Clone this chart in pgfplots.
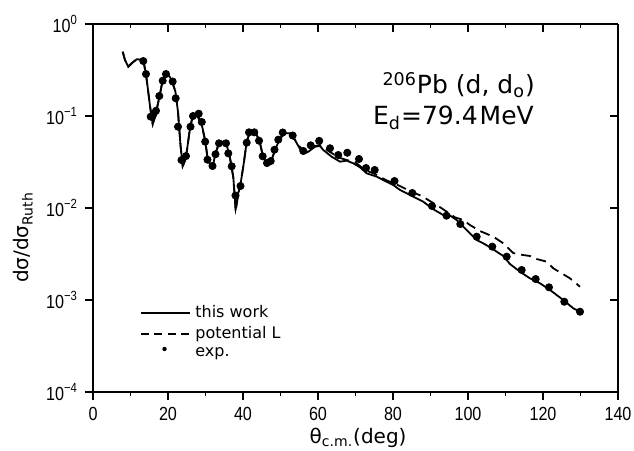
\documentclass[border=0pt]{standalone}
\usepackage{fontspec}
\setmainfont{DejaVu Sans}
\newfontfamily\tickfont[FakeStretch=0.85]{Liberation Sans}
\usepackage{pgfplots}
\pgfplotsset{compat=1.18}

% measured ratio to Rutherford, 206Pb(d,d0) at E_d = 79.4 MeV
\pgfplotstableread{
theta ratio
13.41 0.396
14.13 0.286
15.39 0.0983
16.13 0.105
16.80 0.114
17.68 0.165
18.59 0.242
19.47 0.286
21.25 0.237
22.05 0.156
22.67 0.0765
23.60 0.0332
24.80 0.0367
26.00 0.0765
26.67 0.100
28.19 0.106
29.01 0.0861
29.92 0.0526
30.53 0.0335
31.87 0.0286
32.67 0.0384
33.60 0.0505
35.47 0.0505
36.08 0.0393
36.99 0.0284
38.00 0.01367
39.33 0.01734
40.99 0.0513
41.60 0.0665
43.01 0.0665
44.27 0.0539
45.25 0.0365
46.40 0.0308
47.39 0.0324
48.40 0.0430
49.41 0.0553
50.59 0.0662
53.25 0.0614
56.08 0.0417
58.05 0.0480
60.32 0.0537
63.20 0.0446
65.41 0.0377
67.81 0.0399
70.93 0.0341
72.80 0.0272
75.12 0.0259
80.40 0.01965
85.15 0.01456
90.40 0.01051
94.27 0.00825
97.95 0.00670
102.32 0.00488
106.48 0.00380
110.32 0.00296
114.32 0.00212
118.05 0.00169
121.60 0.001374
125.68 0.000958
129.87 0.000746
}\expdata

% calculation of this work
\pgfplotstableread{
theta ratio
7.92 0.500
8.53 0.406
9.41 0.3435
10.40 0.3768
11.65 0.4134
12.99 0.4113
13.60 0.3674
14.13 0.286
14.67 0.1917
15.20 0.1284
15.92 0.0818
16.53 0.0975
17.07 0.1222
17.87 0.1734
18.59 0.2462
19.47 0.2934
20.53 0.2654
21.33 0.2228
22.00 0.1823
22.67 0.1105
23.33 0.0484
23.92 0.0286
24.53 0.0324
25.07 0.0427
25.87 0.0741
26.67 0.1025
27.73 0.1078
28.72 0.0882
29.33 0.0704
29.87 0.0548
30.53 0.0358
31.33 0.0286
32.00 0.0286
32.53 0.0377
33.60 0.0505
34.75 0.0526
35.65 0.0484
36.53 0.0350
37.41 0.0217
38.05 0.0100
38.75 0.01456
39.39 0.0187
40.27 0.0319
40.99 0.0526
41.87 0.0675
43.20 0.0675
44.35 0.0548
45.25 0.0377
46.32 0.0293
47.39 0.0311
48.53 0.0427
49.87 0.0572
51.20 0.0649
52.53 0.0649
53.87 0.0548
55.20 0.0438
56.00 0.0386
57.41 0.0409
59.20 0.0464
60.53 0.0472
61.41 0.0427
63.65 0.0361
65.87 0.0319
67.65 0.0327
69.41 0.0306
71.20 0.0277
72.99 0.0238
75.65 0.0219
78.32 0.0193
80.08 0.01778
81.87 0.0157
83.65 0.01445
85.41 0.01327
88.08 0.0117
90.75 0.00968
93.41 0.00839
95.20 0.00829
96.99 0.00741
99.65 0.00577
102.32 0.00449
104.08 0.00413
106.32 0.00365
107.65 0.00335
109.41 0.00301
111.20 0.00246
113.87 0.00203
116.53 0.00172
119.20 0.00152
121.87 0.001285
123.65 0.001133
125.41 0.001000
128.08 0.000812
129.87 0.000746
}\thiswork

% calculation with potential L
\pgfplotstableread{
theta ratio
7.92 0.500
8.53 0.406
9.41 0.3435
10.40 0.3768
11.65 0.4134
12.99 0.4113
13.60 0.3674
14.13 0.286
14.67 0.1917
15.20 0.1284
15.92 0.0818
16.53 0.0975
17.07 0.1222
17.87 0.1734
18.59 0.2462
19.47 0.2934
20.53 0.2654
21.33 0.2228
22.00 0.1823
22.67 0.1105
23.33 0.0484
23.92 0.0286
24.53 0.0324
25.07 0.0427
25.87 0.0741
26.67 0.1025
27.73 0.1025
28.53 0.0861
29.33 0.0687
29.87 0.0548
30.53 0.0358
31.33 0.0286
32.00 0.0286
32.53 0.0377
33.60 0.0505
34.75 0.0526
35.65 0.0484
36.53 0.0350
37.41 0.0217
38.05 0.00905
38.75 0.01456
39.39 0.0187
40.27 0.0319
40.99 0.0526
41.87 0.0675
43.20 0.0675
44.35 0.0548
45.25 0.0377
46.32 0.0293
47.39 0.0311
48.53 0.0427
49.87 0.0572
51.20 0.0649
52.53 0.0649
53.87 0.0548
55.20 0.0460
56.53 0.0417
57.60 0.0417
59.20 0.0472
60.53 0.0484
63.20 0.0406
65.87 0.0350
67.73 0.0332
69.87 0.0316
72.53 0.0259
75.20 0.0234
78.13 0.0201
81.87 0.01734
84.53 0.0153
87.65 0.0135
89.87 0.0119
92.99 0.00993
96.53 0.00792
98.75 0.00741
100.53 0.00653
103.20 0.00562
106.75 0.00488
109.41 0.00413
112.08 0.00324
114.75 0.00308
116.53 0.00301
118.32 0.00279
120.99 0.00261
122.75 0.00221
124.99 0.00195
127.20 0.00172
129.87 0.001395
}\potentialL

\begin{document}
\begin{tikzpicture}
\path[use as bounding box] (-46.5pt,-29.5pt) rectangle (270.5pt,196pt);

% frame with inward ticks on top and right
\begin{axis}[
  at={(0pt,0pt)}, anchor=south west,
  scale only axis, width=262.5pt, height=184pt,
  xmin=0, xmax=140, ymin=1e-4, ymax=1, ymode=log,
  axis x line*=top, axis y line*=right,
  axis line style={line width=0.8pt},
  tick align=inside, tick style={line width=0.8pt, black},
  major tick length=4pt, minor tick length=2.2pt,
  xtick={0,20,...,140}, minor x tick num=1,
  ytick={1e-4,1e-3,1e-2,1e-1,1}, yminorticks=false,
  xticklabels={}, yticklabels={},
]
\end{axis}

\begin{axis}[
  at={(0pt,0pt)}, anchor=south west,
  scale only axis, width=262.5pt, height=184pt,
  xmin=0, xmax=140, ymin=1e-4, ymax=1, ymode=log,
  axis x line*=bottom, axis y line*=left,
  axis line style={line width=0.8pt},
  tick align=outside, tick style={line width=0.8pt, black},
  major tick length=4pt, minor tick length=2.2pt,
  xtick={0,20,...,140}, minor x tick num=1,
  ytick={1e-4,1e-3,1e-2,1e-1,1}, yminorticks=false,
  yticklabels={10\textsuperscript{−4},10\textsuperscript{−3},10\textsuperscript{−2},10\textsuperscript{−1},10\textsuperscript{0}},
  /pgf/number format/assume math mode=true,
  ticklabel style={font=\tickfont\fontsize{9.5}{11}\selectfont},
  xlabel={θ\textsubscript{c.m.}(deg)},
  xlabel style={at={(axis description cs:0.505,-0.1386)}, anchor=base, font=\fontsize{10}{12}\selectfont},
  ylabel={dσ/dσ\textsubscript{Ruth}},
  ylabel style={at={(axis description cs:-0.133,0.42)}, anchor=center, font=\fontsize{10}{12}\selectfont},
  legend style={at={(axis description cs:0.0895,0.245)}, anchor=north west,
    draw=none, fill=none, inner sep=0pt, row sep=0pt, column sep=1pt,
    font=\fontsize{8}{9}\selectfont, nodes={inner sep=1.5pt}},
  legend cell align=left,
]
\addplot[black, line width=0.9pt,
  legend image code/.code={\draw[line width=0.8pt] (0cm,0cm) -- (0.85cm,0cm);}]
  table[x=theta, y=ratio] {\thiswork};
\addlegendentry{this work}
\addplot[black, line width=0.9pt, dash pattern=on 5pt off 3pt,
  legend image code/.code={\draw[line width=0.8pt, dash pattern=on 4pt off 2.6pt] (0cm,0cm) -- (0.85cm,0cm);}]
  table[x=theta, y=ratio] {\potentialL};
\addlegendentry{potential L}
\addplot[black, only marks, mark=*, mark size=1.8pt,
  legend image code/.code={\path[draw=none] (0cm,0cm) -- (0.85cm,0cm); \fill[draw=none] (0.41cm,0.08cm) circle (1.1pt);}]
  table[x=theta, y=ratio] {\expdata};
\addlegendentry{exp.}

\node[anchor=base east, font=\fontsize{12.5}{14}\selectfont] at (rel axis cs:0.855,0.81)
  {\textsuperscript{206}Pb\hspace{4pt}(d,\hspace{4pt}d\textsubscript{o})};
\node[anchor=base east, font=\fontsize{12.5}{14}\selectfont] at (rel axis cs:0.853,0.728)
  {E\textsubscript{d}=79.4\hspace{1pt}MeV};
\end{axis}
\end{tikzpicture}
\end{document}
